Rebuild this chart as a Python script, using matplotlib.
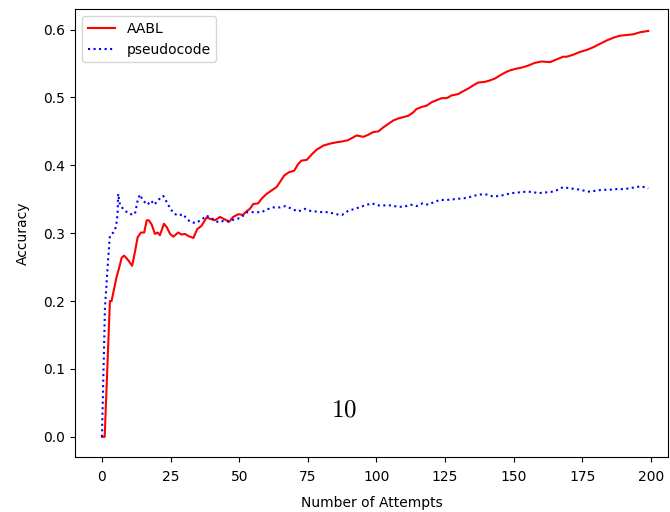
import matplotlib
matplotlib.use("Agg")
import matplotlib.pyplot as plt

plt.rcParams['mathtext.fontset'] = 'cm'

# AABL accuracy curve
aabl_x = [0, 1, 2.9, 3.5, 5.3, 6.2, 7.2, 8.1, 9.6, 11, 12, 13, 14.2, 15.4, 16.3, 17.1,
          18.1, 19.3, 20.3, 21.1, 22.6, 23.6, 24.8, 26, 27.8, 29, 30.2, 31.4, 33.3,
          34.7, 36.3, 38.1, 39.6, 41.2, 43, 44.4, 46.4, 47.8, 49.7, 51.3, 52.9, 53.9,
          55.1, 56.9, 58.2, 60, 61.8, 63.6, 64.8, 66.4, 68.2, 70, 71.5, 72.7, 74.6,
          76.4, 78.2, 80.6, 83.1, 85.5, 87.3, 89.6, 92.8, 95.2, 97, 98.8, 100.7,
          102.5, 104.3, 106.1, 107.9, 109.8, 111.6, 113.4, 114.6, 116.5, 118.3,
          120.1, 121.9, 123.8, 125.6, 127.4, 129.8, 131, 133.4, 135.3, 137.1, 139.5,
          141.3, 143.2, 145.6, 148, 150.5, 152.9, 155.3, 157.7, 160.2, 163.2, 165.6,
          168, 169.3, 171.7, 174.1, 176.6, 179, 181.4, 183.9, 186.3, 188.7, 191.1,
          193.5, 196, 199]
aabl_y = [0.0, 0.0, 0.2, 0.2, 0.235, 0.248, 0.264, 0.267, 0.26, 0.252, 0.272, 0.294,
          0.301, 0.301, 0.319, 0.319, 0.313, 0.299, 0.301, 0.297, 0.314, 0.309, 0.299,
          0.295, 0.301, 0.298, 0.299, 0.296, 0.293, 0.306, 0.311, 0.323, 0.321, 0.319,
          0.324, 0.321, 0.317, 0.324, 0.328, 0.327, 0.333, 0.336, 0.343, 0.344, 0.351,
          0.358, 0.363, 0.368, 0.375, 0.385, 0.39, 0.392, 0.402, 0.407, 0.408, 0.416,
          0.423, 0.429, 0.432, 0.434, 0.435, 0.437, 0.444, 0.442, 0.445, 0.449, 0.45,
          0.456, 0.461, 0.466, 0.469, 0.471, 0.473, 0.478, 0.483, 0.486, 0.488, 0.493,
          0.496, 0.499, 0.499, 0.503, 0.505, 0.508, 0.513, 0.518, 0.522, 0.523, 0.525,
          0.528, 0.534, 0.539, 0.542, 0.544, 0.547, 0.551, 0.553, 0.552, 0.556, 0.56,
          0.56, 0.563, 0.567, 0.57, 0.574, 0.579, 0.584, 0.588, 0.591, 0.592, 0.593,
          0.596, 0.598]

# pseudocode accuracy curve
pseudo_x = [0, 1.1, 2.3, 2.9, 4.1, 5.1, 5.7, 5.9, 6.2, 6.6, 8.4, 10.2, 12, 13, 13.8,
            15, 16.6, 17.9, 19.1, 20.5, 22.3, 23.6, 24.8, 26.2, 27.8, 29.6, 31.1,
            32.7, 34.2, 36.3, 38.1, 40.3, 42.4, 44.2, 46.4, 48.4, 50.3, 52.9, 54.5,
            56.4, 58.2, 60, 62.4, 64.8, 66.9, 69.1, 71.5, 73.7, 75.8, 77.8, 80.3,
            82.7, 85.1, 87.5, 89.7, 92.2, 95.8, 98.3, 100.7, 103.1, 105.5, 107.6, 110,
            112.5, 114.6, 116.8, 118.9, 121, 123.1, 125.6, 128, 130.4, 132.9, 135.3,
            137.7, 140.1, 142.5, 145, 147, 149.2, 151.6, 154.1, 156.5, 158.9, 161.4,
            163.8, 166.2, 168, 170.5, 172.9, 175.3, 177.8, 180.2, 182.6, 184.8, 187.2,
            189.7, 192.1, 194.5, 196.6, 199]
pseudo_y = [0.0, 0.19, 0.264, 0.296, 0.301, 0.309, 0.328, 0.358, 0.351, 0.341, 0.333,
            0.328, 0.328, 0.348, 0.357, 0.348, 0.342, 0.348, 0.342, 0.349, 0.355, 0.346,
            0.337, 0.329, 0.326, 0.328, 0.32, 0.316, 0.315, 0.32, 0.326, 0.321, 0.316,
            0.318, 0.317, 0.321, 0.322, 0.331, 0.331, 0.331, 0.331, 0.335, 0.338, 0.338,
            0.34, 0.336, 0.332, 0.336, 0.333, 0.332, 0.331, 0.331, 0.328, 0.327, 0.333,
            0.336, 0.341, 0.344, 0.341, 0.341, 0.341, 0.339, 0.339, 0.342, 0.34, 0.344,
            0.342, 0.346, 0.349, 0.349, 0.35, 0.351, 0.352, 0.355, 0.357, 0.357, 0.354,
            0.355, 0.357, 0.359, 0.36, 0.361, 0.361, 0.359, 0.36, 0.361, 0.364, 0.368,
            0.366, 0.365, 0.363, 0.361, 0.363, 0.364, 0.364, 0.365, 0.365, 0.366, 0.368,
            0.369, 0.366]

fig = plt.figure(figsize=(6.7, 5.12), dpi=100)
ax = fig.add_axes([0.112, 0.107, 0.885, 0.875])

ax.plot(aabl_x, aabl_y, color='r', linewidth=1.5, label='AABL')
ax.plot(pseudo_x, pseudo_y, color='b', linestyle=':', linewidth=1.5, label='pseudocode')

ax.text(88, 0.04, r'$10$', fontsize=18, ha='center', va='center')

ax.set_xlim(-9.8, 206.2)
ax.set_ylim(-0.03, 0.63)
ax.tick_params(axis='x', pad=6)
ax.set_xlabel('Number of Attempts', labelpad=8)
ax.set_ylabel('Accuracy', labelpad=10)
ax.legend(loc='upper left')

fig.savefig('out.png', dpi=100)
